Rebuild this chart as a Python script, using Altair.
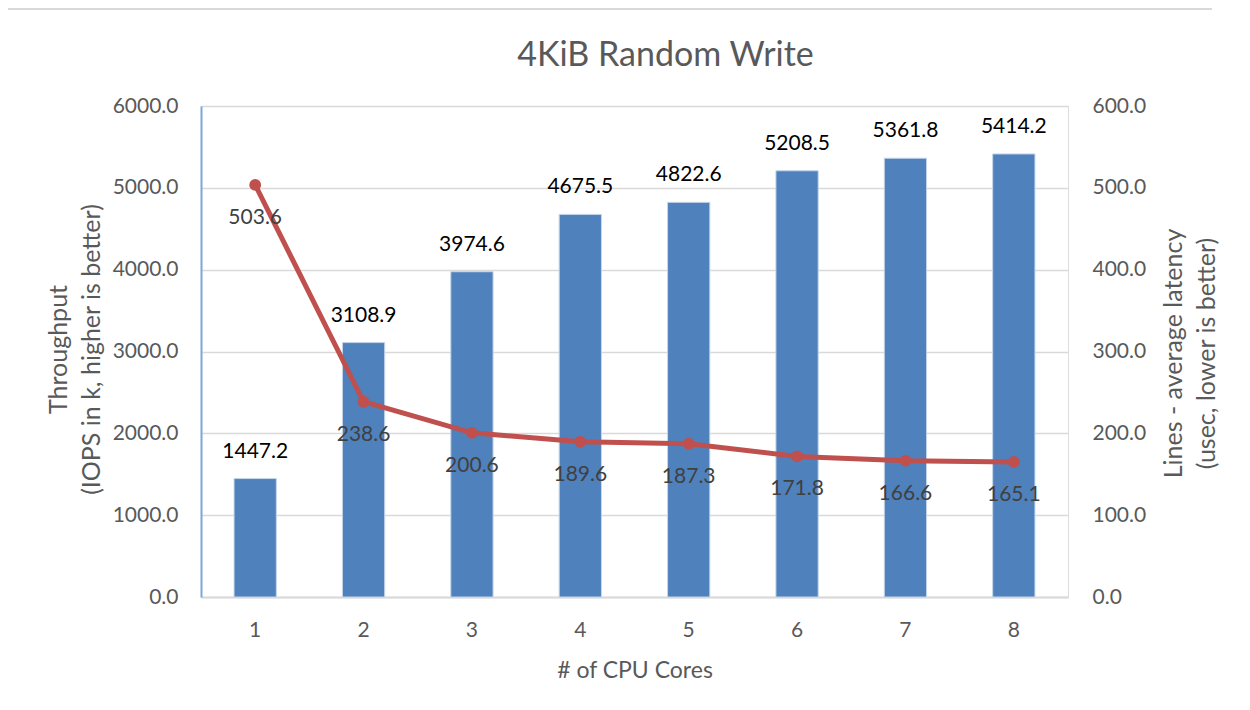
import altair as alt
import pandas as pd

chart_title = "4KiB Random Write"
cores = ["1", "2", "3", "4", "5", "6", "7", "8"]
throughput = [1447.2, 3108.9, 3974.6, 4675.5, 4822.6, 5208.5, 5361.8, 5414.2]
latency = [503.6, 238.6, 200.6, 189.6, 187.3, 171.8, 166.6, 165.1]
left_ticks = [0, 1000, 2000, 3000, 4000, 5000, 6000]
right_ticks = [0, 100, 200, 300, 400, 500, 600]

df = pd.DataFrame({"cores": cores, "throughput": throughput, "latency": latency})

FONT = "Lato"
GRAY = "#595959"
W, H = 867, 491
PAD_L, PAD_T = 193, 98
PAD_R = 1234 - PAD_L - W
PAD_B = 694 - PAD_T - H

xenc = alt.X(
    "cores:O",
    sort=cores,
    scale=alt.Scale(paddingInner=0.61, paddingOuter=0.305),
    axis=alt.Axis(
        title="# of CPU Cores",
        labelAngle=0,
        labelFontSize=21,
        labelColor=GRAY,
        labelFont=FONT,
        labelBaseline="middle",
        labelPadding=33,
        ticks=False,
        domainColor="#d9d9d9",
        domainWidth=2,
        titleFontSize=23,
        titleFont=FONT,
        titleColor=GRAY,
        titleFontWeight="normal",
        titleBaseline="middle",
        titleY=73,
    ),
)

base = alt.Chart(df).encode(x=xenc)

bars = base.mark_bar(color="#4f81bd", stroke="#c5d5ea", strokeWidth=1).encode(
    y=alt.Y(
        "throughput:Q",
        scale=alt.Scale(domain=[0, 6000], nice=False),
        axis=alt.Axis(
            title=["Throughput", "(IOPS in k, higher is better)"],
            values=left_ticks,
            format=".1f",
            labelFontSize=21,
            labelColor=GRAY,
            labelFont=FONT,
            labelPadding=23,
            ticks=False,
            domainColor="#7ea6d9",
            domainWidth=2,
            grid=True,
            gridColor="#d9d9d9",
            gridWidth=1.5,
            titleFontSize=25,
            titleFont=FONT,
            titleColor=GRAY,
            titleFontWeight="normal",
            titleAngle=270,
            titleAlign="center",
            titleBaseline="middle",
            titleLineHeight=33,
            titleX=-142.5,
            titleY=243,
        ),
    )
)

bar_labels = base.mark_text(
    font=FONT, fontSize=21, color="#000000", baseline="middle", dy=-27
).encode(
    y=alt.Y("throughput:Q", scale=alt.Scale(domain=[0, 6000], nice=False)),
    text=alt.Text("throughput:Q", format=".1f"),
)

left_layer = alt.layer(bars, bar_labels)

line = base.mark_line(color="#c0504d", strokeWidth=5).encode(
    y=alt.Y(
        "latency:Q",
        scale=alt.Scale(domain=[0, 600], nice=False),
        axis=alt.Axis(
            orient="right",
            title=["Lines - average latency", "(usec, lower is better)"],
            values=right_ticks,
            format=".1f",
            labelFontSize=21,
            labelColor=GRAY,
            labelFont=FONT,
            labelPadding=24,
            ticks=False,
            domain=False,
            grid=False,
            titleFontSize=25,
            titleFont=FONT,
            titleColor=GRAY,
            titleFontWeight="normal",
            titleAngle=270,
            titleAlign="center",
            titleBaseline="middle",
            titleLineHeight=33,
            titleX=105,
            titleY=247,
        ),
    )
)

pts = base.mark_point(filled=True, color="#c0504d", size=140, opacity=1).encode(
    y=alt.Y("latency:Q", scale=alt.Scale(domain=[0, 600], nice=False))
)

line_labels = base.mark_text(
    font=FONT, fontSize=21, color="#404040", baseline="middle", dy=33
).encode(
    y=alt.Y("latency:Q", scale=alt.Scale(domain=[0, 600], nice=False)),
    text=alt.Text("latency:Q", format=".1f"),
)

right_layer = alt.layer(line, pts, line_labels)

title_data = alt.Data(values=[{"t": chart_title}])
frame_data = alt.Data(values=[{"edge": "top"}])

frame_top = alt.Chart(frame_data).mark_rect(color="#d9d9d9", strokeWidth=0).encode(
    x=alt.value(-PAD_L),
    x2=alt.value(W + PAD_R - 30),
    y=alt.value(-PAD_T),
    y2=alt.value(-PAD_T + 2),
)

title = alt.Chart(title_data).mark_text(
    font=FONT, fontSize=34, color=GRAY, align="center", baseline="middle"
).encode(
    x=alt.value(W / 2 + 31),
    y=alt.value(-50),
    text="t:N",
)

chart = (
    alt.layer(frame_top, title, left_layer, right_layer)
    .resolve_scale(y="independent")
    .properties(
        width=W,
        height=H,
        autosize=alt.AutoSizeParams(type="none"),
        padding={"left": PAD_L, "top": PAD_T, "right": PAD_R, "bottom": PAD_B},
    )
    .configure_view(stroke=None)
    .configure(background="white")
)

chart.save("out.html", embed_options={"renderer": "svg", "actions": False})
